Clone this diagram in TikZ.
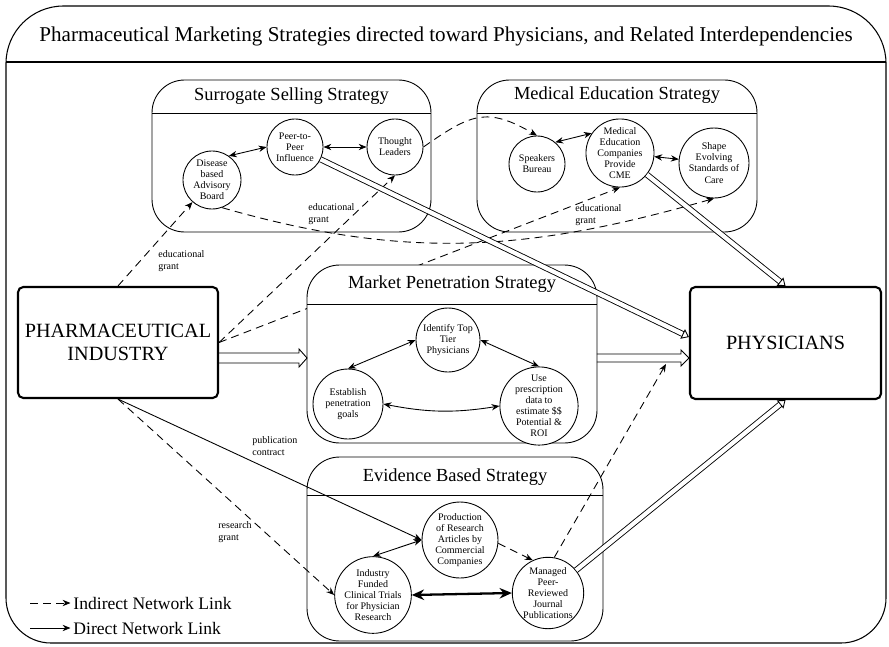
\documentclass[tikz,border=0pt]{standalone}
\usepackage{fontspec}
\setmainfont{Liberation Serif}
\usetikzlibrary{arrows.meta,calc}

\begin{document}
\begin{tikzpicture}[x=0.02cm,y=-0.02cm,>={Stealth[length=4.5pt,width=3.6pt]}]
 \tikzset{
  circ/.style={circle,draw,line width=0.5pt,fill=white,inner sep=0pt,align=center,
   font=\fontsize{5.7}{6.3}\selectfont},
  stratbox/.style={draw,line width=0.5pt,fill=white,rounded corners=0.65cm,
   inner sep=0pt,outer sep=0pt},
  boxtitle/.style={font=\fontsize{10.5}{12}\selectfont},
  mainbox/.style={draw,line width=1.2pt,rounded corners=3pt,fill=white,align=center,
   font=\fontsize{11.5}{13.5}\selectfont},
  lbl/.style={align=left,anchor=west,inner sep=0pt,font=\fontsize{5.7}{6.7}\selectfont},
  legend/.style={anchor=west,inner sep=1.5pt,font=\fontsize{10}{12}\selectfont},
  link/.style={line width=0.5pt,->},
  twoway/.style={line width=0.5pt,<->},
  indirect/.style={link,dash pattern=on 4.5pt off 3pt},
  direct/.style={line width=0.5pt,double,double distance=2.4pt,
   -{Triangle[open,length=4pt,width=6pt]}},
  blockarrow/.style={line width=0.5pt,line join=miter}}
 \useasboundingbox (0,0) rectangle (889,646);

 \draw[line width=0.6pt] (6,330) [rounded corners=1.15cm] -- (6,6) -- (886,6) -- (886,330)
  [rounded corners=0.9cm] -- (886,643) -- (6,643) -- cycle;
 \draw[line width=0.6pt] (6,62) -- (886,62);
 \node[font=\fontsize{12}{14}\selectfont] (title) at (446,36)
  {Pharmaceutical Marketing Strategies directed toward Physicians, and Related Interdependencies};

 \node[stratbox,minimum width=5.58cm,minimum height=3.04cm] (ssbox) at (291.5,156) {};
 \node[stratbox,minimum width=5.6cm,minimum height=3.04cm] (mebox) at (617,156) {};
 \node[stratbox,minimum width=5.92cm,minimum height=3.68cm] (ebbox) at (455,549) {};
 \draw[line width=0.5pt] (ssbox.west |- 0,113) -- (ssbox.east |- 0,113);
 \draw[line width=0.5pt] (mebox.west |- 0,113) -- (mebox.east |- 0,113);
 \draw[line width=0.5pt] (ebbox.west |- 0,495) -- (ebbox.east |- 0,495);
 \node[boxtitle] (sstitle) at (ssbox.north |- 0,96) {Surrogate Selling Strategy};
 \node[boxtitle] (metitle) at (mebox.north |- 0,95) {Medical Education Strategy};
 \node[boxtitle] (ebtitle) at (ebbox.north |- 0,477) {Evidence Based Strategy};

 \node[circ,minimum size=1.16cm] (disease) at (212,180) {Disease\\based\\Advisory\\Board};
 \node[circ,minimum size=1.12cm] (peer) at (295,147) {Peer-to-\\Peer\\Influence};
 \node[circ,minimum size=1.12cm] (thought) at (395,147) {Thought\\Leaders};
 \node[circ,minimum size=1.12cm] (speakers) at (537,164) {Speakers\\Bureau};
 \node[circ,minimum size=1.36cm] (cme) at (620,153) {Medical\\Education\\Companies\\Provide\\CME};
 \node[circ,minimum size=1.4cm] (shape) at (714,163) {Shape\\Evolving\\Standards of\\Care};
 \node[circ,minimum size=1.52cm] (prod) at (460,540)
  {Production\\of Research\\Articles by\\Commercial\\Companies};
 \node[circ,minimum size=1.48cm] (trials) at (373,595)
  {Industry\\Funded\\Clinical Trials\\for Physician\\Research};
 \node[circ,minimum size=1.32cm] (journal) at (548,593)
  {Managed\\Peer-\\Reviewed\\Journal\\Publications};

 \node[mainbox,minimum width=4cm,minimum height=2.22cm] (pharma) at (118,342.5)
  {PHARMACEUTICAL\\INDUSTRY};
 \node[mainbox,minimum width=3.82cm,minimum height=2.24cm] (phys) at (785.5,343) {PHYSICIANS};

 \draw[indirect] (pharma.east) -- (cme.south);

 \node[stratbox,minimum width=5.8cm,minimum height=3.56cm] (mpbox) at (452,354) {};
 \draw[line width=0.5pt] (mpbox.west |- 0,304) -- (mpbox.east |- 0,304);
 \node[boxtitle] (mptitle) at (mpbox.north |- 0,284) {Market Penetration Strategy};
 \node[circ,minimum size=1.28cm] (identify) at (448,340) {Identify Top\\Tier\\Physicians};
 \node[circ,minimum size=1.4cm] (establish) at (348,404) {Establish\\penetration\\goals};
 \node[circ,minimum size=1.48cm] (prescr) at (539,406)
  {Use\\prescription\\data to\\estimate \$\$\\Potential \&\\ROI};

 \draw[twoway] (disease.55) -- (peer.west);
 \draw[twoway] (peer) -- (thought);
 \draw[twoway] (speakers.50) -- (cme.145);
 \draw[twoway] (cme) -- (shape);
 \draw[twoway] (identify.west) -- (establish.north);
 \draw[twoway] (identify.east) -- (prescr.north);
 \draw[twoway] (establish.east) to[bend right=10] (prescr.west);
 \draw[twoway] (prod.west) -- (trials.north);
 \draw[line width=1.3pt,{Stealth[length=7pt,width=6pt]}-{Stealth[length=7pt,width=6pt]}]
  (trials.east) -- (journal.west);
 \draw[indirect] (prod.-5) -- (journal.115);

 \draw[indirect] (pharma.north) -- (disease);
 \draw[indirect] (pharma.east) -- (thought.south);
 \draw[indirect] (pharma.south) -- (trials.west);
 \draw[link] (pharma.south) -- (prod.west);
 \draw[indirect] (disease.-70) to[out=-16,in=196] (shape.south);
 \draw[indirect] (thought.east) to[out=35,in=150,looseness=1.3] (speakers.north);
 \coordinate (physlow) at ([xshift=-0.46cm,yshift=-0.42cm]phys.west);
 \draw[indirect] (journal.80) -- (physlow);

 \coordinate (pin) at ([yshift=-0.31cm]pharma.east);
 \coordinate (mpin) at (pin -| mpbox.west);
 \coordinate (mpout) at (mpbox.east |- pin);
 \coordinate (physin) at (pin -| phys.west);
 \draw[blockarrow] ($(pin)+(0,-5)$) -- ($(mpin)+(-8,-5)$) -- ++(0,-4) -- (mpin)
  -- ++(-8,9) -- ++(0,-4) -- ($(pin)+(0,5)$);
 \draw[blockarrow] ($(mpout)+(0,-4)$) -- ($(physin)+(-8,-4)$) -- ++(0,-4) -- (physin)
  -- ++(-8,8) -- ++(0,-4) -- ($(mpout)+(0,4)$);
 \draw[direct] (peer) -- ([yshift=0.12cm]phys.west);
 \draw[direct] (cme) -- (phys.north);
 \draw[direct] (journal) -- (phys.south);

 \node[lbl] (grant1) at (158,261) {educational\\grant};
 \node[lbl] (grant2) at (308,214) {educational\\grant};
 \node[lbl] (grant3) at (575,215) {educational\\grant};
 \node[lbl] (contract) at (252,446) {publication\\contract};
 \node[lbl] (resgrant) at (218,532) {research\\grant};

 \node[legend] (indtext) at (70.5,603) {Indirect Network Link};
 \node[legend] (dirtext) at (70.5,628) {Direct Network Link};
 \coordinate (indstart) at (30,603);
 \coordinate (dirstart) at (30,628);
 \draw[indirect] (indstart) -- (indtext);
 \draw[link] (dirstart) -- (dirtext);
\end{tikzpicture}
\end{document}
